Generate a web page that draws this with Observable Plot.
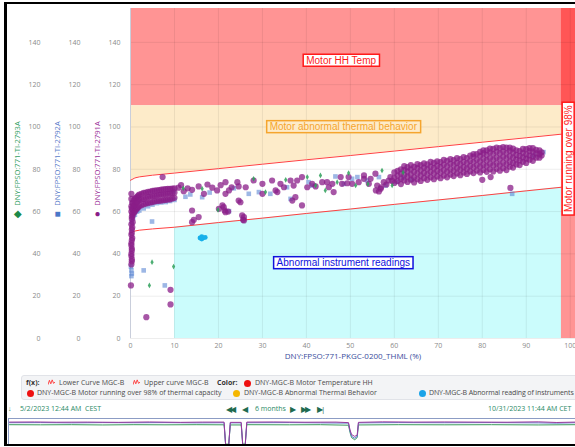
<!DOCTYPE html>
<html>
<head>
<meta charset="utf-8">
<script src="https://cdn.jsdelivr.net/npm/d3@7"></script>
<script src="https://cdn.jsdelivr.net/npm/@observablehq/plot@0.6"></script>
<style>
  body { margin: 0; width: 575px; height: 447px; overflow: hidden; background: #fff; position: relative; font-family: "Open Sans", sans-serif; }
  #frame { position: absolute; left: 4px; top: 2px; width: 700px; height: 440px; border-left: 3px solid #000; border-top: 2px solid #000; border-bottom: 2px solid #000; pointer-events: none; z-index: 5; }
  #chart { position: absolute; left: 0; top: 0; }
  #legend { position: absolute; left: 21px; top: 375px; width: 600px; height: 23px; background: #f3f4f6; border: 1px solid #e1e3e8; border-radius: 3px; font-size: 7px; color: #4a4a4a; }
  #legend span, #legend i, #legend svg { position: absolute; white-space: nowrap; line-height: 10px; }
  #legend b { font-weight: 700; color: #333; }
  #legend .dot { width: 7px; height: 7px; border-radius: 50%; }
  #legend svg { width: 7px; height: 7px; }
  #timeline { position: absolute; top: 403px; left: 0; width: 575px; height: 12px; font-size: 7px; color: #2a8a66; white-space: nowrap; }
  #timeline span { position: absolute; top: 0; line-height: 12px; }
  #timeline .ic { color: #1f6b50; font-size: 8px; letter-spacing: -2px; }
  #mini { position: absolute; left: 8px; top: 418px; border-top: 1px solid #8c9cc4; border-left: 1px solid #8c9cc4; }
</style>
</head>
<body>
<div id="chart"></div>
<div id="legend">
  <span style="left:4px;top:2px"><b>f(x):</b></span>
  <svg style="left:26px;top:3px" viewBox="0 0 8 7"><polyline points="0,6 1.6,1 3.2,5 4.8,0.5 6.4,4.5 8,3" fill="none" stroke="#ff3030" stroke-width="1"/></svg>
  <span style="left:37px;top:2px">Lower Curve MGC-B</span>
  <svg style="left:111px;top:3px" viewBox="0 0 8 7"><polyline points="0,6 1.6,1 3.2,5 4.8,0.5 6.4,4.5 8,3" fill="none" stroke="#ff3030" stroke-width="1"/></svg>
  <span style="left:122px;top:2px">Upper curve MGC-B</span>
  <span style="left:195px;top:2px"><b>Color:</b></span>
  <i class="dot" style="left:222px;top:3.5px;background:#ee1111"></i>
  <span style="left:233px;top:2px">DNY-MGC-B Motor Temperature HH</span>
  <i class="dot" style="left:5px;top:13.5px;background:#ee1111"></i>
  <span style="left:15px;top:12px">DNY-MGC-B Motor running over 98% of thermal capacity</span>
  <i class="dot" style="left:211px;top:13.5px;background:#f5b700"></i>
  <span style="left:222px;top:12px">DNY-MGC-B Abnormal Thermal Behavior</span>
  <i class="dot" style="left:397px;top:13.5px;background:#1aa3e8"></i>
  <span style="left:407px;top:12px;letter-spacing:-0.12px">DNY-MGC-B Abnormal reading of instruments</span>
</div>
<div id="timeline">
  <span style="left:8px">&#8595;</span>
  <span style="left:20px">5/2/2023 12:44 AM&nbsp; CEST</span>
  <span class="ic" style="left:226px">&#9664;&#9664;</span>
  <span class="ic" style="left:242px">&#9664;</span>
  <span style="left:255px">6 months</span>
  <span class="ic" style="left:290px">&#9654;</span>
  <span class="ic" style="left:301px">&#9654;&#9654;</span>
  <span class="ic" style="left:317px">&#9654;|</span>
  <span style="left:488px">10/31/2023 11:44 AM CET</span>
</div>
<div id="mini"></div>
<div id="frame"></div>
<script>
// Axis ticks
const xTicks = [0, 10, 20, 30, 40, 50, 60, 70, 80, 90, 100];
const yTicks = [0, 20, 40, 60, 80, 100, 120, 140];
const xMax = 101.2;
const yMax = 156;

// Alarm limits
const hhTempLimit = 110;        // Motor HH temperature
const capacityLimit = 98;       // % of thermal capacity
const instrumentLimit = 10;     // below this load the instrument check is not applied

// Lower / upper envelope curves (x = % thermal capacity, y = temperature)
const lowerCurve = [[0, 50], [1, 50.8], [2, 51.2], [5, 51.8], [10, 52.6], [20, 54.8], [30, 56.9], [40, 59.1], [50, 61.2], [60, 63.4], [70, 65.5], [80, 67.6], [90, 69.8], [98, 71.5]];
const upperCurve = [[0, 74.8], [1, 75.9], [2, 76.4], [5, 77.2], [10, 78.2], [20, 80.3], [30, 82.4], [40, 84.5], [50, 86.5], [60, 88.6], [70, 90.7], [80, 92.8], [90, 94.9], [98, 96.6]];

// DNY:FPSO:771-TI-2791A readings
const ti2791A = [
  // start-up tail
  [0.1, 25.1], [0.2, 35], [0.3, 36.5], [0.3, 37.5], [0.2, 39], [0.2, 40], [0.3, 41.5], [0.3, 42.5], [0.2, 44], [0.2, 45], [0.3, 46.5], [0.4, 47.5], [0.2, 49],
  [0.3, 50], [0.3, 51.5], [0.4, 52.5], [0.2, 54], [0.5, 55], [0.3, 56.5], [0.3, 57.5], [0.4, 59], [0.2, 60], [0.3, 61.5], [0.2, 62.5], [0.4, 64], [0.2, 66], [0.2, 68.4],
  // low-load knee
  [0.5, 58], [0.5, 61], [0.5, 64], [0.75, 59.5], [0.75, 62.5], [0.75, 65.3], [1, 60], [1, 63], [1, 66], [1.25, 61], [1.25, 64], [1.25, 66.5],
  [1.5, 61.5], [1.5, 64.5], [1.5, 67], [1.75, 62], [1.75, 65], [1.75, 67.5], [2, 62.5], [2, 65.5], [2, 68], [2.5, 63], [2.5, 65.8], [2.5, 68.4],
  [3, 63.5], [3, 66], [3, 68.8], [3.5, 63.8], [3.5, 66.4], [3.5, 69], [4, 64], [4, 66.8], [4, 69.3], [4.5, 64.3], [4.5, 67], [4.5, 69.5],
  [5, 64.5], [5, 67.2], [5, 69.8], [5.5, 64.8], [5.5, 67.4], [5.5, 69.9], [6, 65], [6, 67.6], [6, 70], [6.5, 65.1], [6.5, 67.8], [6.5, 70.2],
  [7, 65.2], [7, 68], [7, 70.4], [7.5, 65.4], [7.5, 68.1], [7.5, 70.5], [8, 65.5], [8, 68.2], [8, 70.6], [8.5, 65.7], [8.5, 68.4], [8.5, 70.7],
  [9, 65.8], [9, 68.5], [9, 70.8], [9.5, 66.2], [9.5, 68.7], [9.5, 70.9], [10, 66.5], [10, 69], [10, 71],
  [9.1, 23], [9.1, 16.1], [3.6, 10.1], [7.3, 76.3],
  // scattered operation
  [10.9, 71.3], [12.1, 69.6], [14, 70.3], [15.5, 71.9], [16.7, 68.4], [18.6, 71.3], [19.7, 70], [11.5, 72.5], [13, 71], [17.5, 72.8],
  [20.5, 72.5], [23, 71.5], [22.4, 70], [21.6, 68.4], [21.6, 73.9], [24.3, 73.9], [24.6, 71.9],
  [15.5, 57.4], [14.4, 56.1], [14, 60.5], [14, 55], [20.1, 61.3], [21.2, 62.1], [21.6, 59.7], [20.9, 62.9], [21.4, 60.5], [22.2, 60],
  [24.6, 65.2], [25, 64.4], [25.4, 58.2], [25.8, 57.4], [25.6, 56.1], [25.8, 55.8],
  [26.2, 71.5], [28, 74.7], [30, 73.1], [30, 68.4], [32.2, 74.7], [33, 70], [33.4, 69.2], [34.1, 73.1], [34.9, 71.5], [36.4, 74.7],
  [37.1, 72.3], [36.8, 65.2], [37.5, 66.8], [39, 62.9], [37.9, 74.7], [39, 76.3], [40.2, 71.5], [41.3, 73.1], [42.1, 71.9], [43.6, 73.9],
  [44.7, 73.9], [45.1, 71.5], [46.2, 69.2], [45.9, 73.1], [47.8, 76.3], [48.1, 73.1], [49.3, 73.4], [49.6, 76.3], [50.4, 73.1], [51.9, 73.9],
  [53.1, 75.5], [54.2, 73.1], [53.1, 77.1], [54.6, 75.5], [55.7, 77.9], [56.1, 72.3], [56.9, 70.8], [57.6, 73.9], [58.7, 74.7], [59.1, 76.3],
  [55.8, 70], [56.5, 69.5], [57, 71.5], [58.2, 72.8], [59.5, 74.5],
  // high-load cluster
  [60, 73.5], [60, 76], [60, 78.5], [60.75, 74.5], [60.75, 77], [60.75, 79.3],
  [61.5, 73], [61.5, 75.5], [61.5, 78], [61.5, 80], [62.25, 74.7], [62.25, 77.2], [62.25, 79.7], [62.25, 81.5],
  [63, 74], [63, 76.5], [63, 79], [63, 81], [63.75, 75.1], [63.75, 77.5], [63.75, 80], [63.75, 82],
  [64.5, 73.8], [64.5, 76.2], [64.5, 78.8], [64.5, 81.2], [65.25, 75.3], [65.25, 78], [65.25, 80.5], [65.25, 82.4],
  [66, 74.5], [66, 77], [66, 79.5], [66, 82], [66.75, 75.8], [66.75, 78.3], [66.75, 80.8], [66.75, 82.8],
  [67.5, 75], [67.5, 77.5], [67.5, 80], [67.5, 82.3], [68.25, 76.2], [68.25, 78.8], [68.25, 81.3], [68.25, 83.5],
  [69, 75.3], [69, 78], [69, 80.5], [69, 83], [69.75, 76.6], [69.75, 79.2], [69.75, 81.7], [69.75, 83.8],
  [70.5, 75.8], [70.5, 78.4], [70.5, 81], [70.5, 83.4], [71.25, 77], [71.25, 79.6], [71.25, 82.2], [71.25, 84.5],
  [72, 76.2], [72, 78.8], [72, 81.4], [72, 84], [72.75, 77.5], [72.75, 80], [72.75, 82.6], [72.75, 84.8],
  [73.5, 76.8], [73.5, 79.3], [73.5, 81.9], [73.5, 84.3], [74.25, 78], [74.25, 80.5], [74.25, 83], [74.25, 85.3],
  [75, 77.2], [75, 79.8], [75, 82.3], [75, 84.8], [75.75, 78.5], [75.75, 81], [75.75, 83.5], [75.75, 85.8],
  [76.5, 77.8], [76.5, 80.3], [76.5, 82.8], [76.5, 85.3], [77.25, 79], [77.25, 81.5], [77.25, 84], [77.25, 86.5],
  [78, 78.2], [78, 80.8], [78, 83.4], [78, 86], [78, 87.2], [78.75, 79.4], [78.75, 82], [78.75, 84.6], [78.75, 87.2],
  [79.5, 78.5], [79.5, 81.2], [79.5, 83.8], [79.5, 86.4], [79.5, 88.2], [80.25, 79.7], [80.25, 82.3], [80.25, 85], [80.25, 87.6], [80.25, 89],
  [81, 78.8], [81, 81.5], [81, 84.2], [81, 86.8], [81, 89], [81.75, 80], [81.75, 82.6], [81.75, 85.3], [81.75, 88], [81.75, 89.8],
  [82.5, 79], [82.5, 81.8], [82.5, 84.5], [82.5, 87.2], [82.5, 89.6], [83.25, 80.2], [83.25, 82.9], [83.25, 85.6], [83.25, 88.3], [83.25, 90.3],
  [84, 79.3], [84, 82], [84, 84.8], [84, 87.5], [84, 90], [84.75, 80.5], [84.75, 83.2], [84.75, 85.9], [84.75, 88.5], [84.75, 90.5],
  [85.5, 79.6], [85.5, 82.3], [85.5, 85], [85.5, 87.6], [85.5, 90.2], [86.25, 81.2], [86.25, 83.6], [86.25, 86.2], [86.25, 88.8], [86.25, 90.2],
  [87, 80.8], [87, 83], [87, 85.5], [87, 87.9], [87, 89.8], [87.75, 82.3], [87.75, 84.6], [87.75, 86.8], [87.75, 89],
  [88.5, 82], [88.5, 84.2], [88.5, 86.4], [88.5, 88.6], [89.25, 83.5], [89.25, 85.6], [89.25, 87.8], [89.25, 89.6],
  [90, 83], [90, 85], [90, 87], [90, 89.5], [90.75, 84.5], [90.75, 86.5], [90.75, 88.6], [90.75, 90],
  [91.5, 84], [91.5, 86], [91.5, 88.3], [91.5, 90], [92.25, 85.5], [92.25, 87.5], [92.25, 89.2],
  [93, 85.5], [93, 87.2], [93, 89], [93.5, 86.5], [93.5, 88],
  [80, 75], [81.9, 76.3], [86.4, 71.2]
];

// DNY:FPSO:771-TI-2792A readings
const ti2792A = [
  [0.2, 32.2], [0.3, 30.7], [0.1, 34], [0.2, 29.5],
  [0.3, 55], [0.6, 57], [1, 58.5], [1.5, 60], [2, 60.5], [3, 61.5], [4, 62.5], [5, 63.3], [6, 64], [7, 64.3], [8, 64.5], [9, 65], [10, 65.5], [4.9, 55.3],
  [3, 32.2], [7.8, 25.1],
  [9.8, 69.6], [13.6, 68.1], [16.3, 66.8], [12.5, 67], [18, 69], [22.4, 60.2], [23.5, 71], [26.9, 68.4], [29.2, 69.2], [31.8, 68.4],
  [35.6, 71.5], [36.4, 66], [40.5, 73.9], [41.3, 72.3], [46.6, 76.6], [48.5, 73.1], [50.4, 75.5], [51.6, 76.3], [53.8, 74.7], [56.5, 76.3],
  [58, 72.3], [60.5, 74], [62, 76], [64, 75], [86.8, 68.4], [91.7, 86.5], [93.9, 88.1]
];

// DNY:FPSO:771-TI-2793A readings
const ti2793A = [
  [4.9, 36.1], [9.8, 34], [4.3, 25.1], [12, 71], [16.3, 70.8], [19.9, 60.8], [28, 75.5], [30.7, 69.2], [35.3, 75], [40.2, 76.3],
  [42.1, 72.3], [43.2, 77.1], [44.3, 70], [47, 73.9], [49.6, 78.2], [51.2, 72.3], [54, 73], [57.2, 79.4], [59.5, 72.3], [62, 78.5]
];

// Readings flagged as abnormal instrument readings
const abnormalReadings = [[15.8, 47.5], [16.2, 48.2], [16.6, 47.6], [16.2, 47], [17, 47.8]];

// Zone annotations
const zoneLabels = [
  {text: "Motor HH Temp", x: 47.9, y: 131.4, color: "#ff1a1a", box: "#ffffff"},
  {text: "Motor abnormal thermal behavior", x: 48.4, y: 100, color: "#f5a52e", box: "#fdebc9"},
  {text: "Abnormal instrument readings", x: 48.4, y: 35.7, color: "#1010dd", box: "#ffffff"}
];
const capacityLabel = [{text: "Motor running over 98%", x: 99.6, y: 85, color: "#ff1a1a", box: "#ffffff"}];

const seriesAxes = [
  {name: "DNY:FPSO:771-TI-2793A", color: "#33a064", symbol: "\u25C6", symbolColor: "#1d8a49"},
  {name: "DNY:FPSO:771-TI-2792A", color: "#5a7cc9", symbol: "\u25A0", symbolColor: "#4a78c8"},
  {name: "DNY:FPSO:771-TI-2791A", color: "#9b3199", symbol: "\u25CF", symbolColor: "#8a1d88"}
];
const xLabel = "DNY:FPSO:771-PKGC-0200_THML (%)";

const pts = a => a.map(([x, y]) => ({x, y}));
const lower = pts(lowerCurve);
const upper = pts(upperCurve);

const axisOffsets = [-80, -40, 0];
const labelOffsets = [-112.5, -73, -33];
const labelFont = "Liberation Sans, Arial, sans-serif";

const main = Plot.plot({
  width: 575,
  height: 368,
  marginLeft: 130,
  marginRight: 0,
  marginTop: 8,
  marginBottom: 30,
  x: {domain: [0, xMax]},
  y: {domain: [0, yMax]},
  style: {fontFamily: "Open Sans, sans-serif", background: "transparent", overflow: "visible"},
  marks: [
    // zones
    Plot.rect([{x1: 0, x2: xMax, y1: hhTempLimit, y2: yMax}], {x1: "x1", x2: "x2", y1: "y1", y2: "y2", fill: "#ff0000", fillOpacity: 0.42}),
    Plot.areaY(upper, {x: "x", y1: "y", y2: hhTempLimit, fill: "#fdebc9"}),
    Plot.areaY(lower.filter(d => d.x >= instrumentLimit), {x: "x", y1: 0, y2: "y", fill: "#cbfcfc"}),
    Plot.rect([{x1: capacityLimit, x2: xMax, y1: 0, y2: yMax}], {x1: "x1", x2: "x2", y1: "y1", y2: "y2", fill: "#ff0000", fillOpacity: 0.42}),
    // grid
    Plot.gridX(xTicks, {stroke: "#000", strokeOpacity: 0.07}),
    Plot.gridY(yTicks, {stroke: "#000", strokeOpacity: 0.07}),
    Plot.ruleX([0], {stroke: "#c9cedb"}),
    // envelope curves
    Plot.line(lower, {x: "x", y: "y", stroke: "#ff4040", strokeWidth: 1}),
    Plot.line(upper, {x: "x", y: "y", stroke: "#ff4040", strokeWidth: 1}),
    // readings
    Plot.dot(pts(ti2792A), {x: "x", y: "y", symbol: "square", r: 2.6, fill: "#5b87d4", fillOpacity: 0.6, stroke: null}),
    Plot.dot(pts(ti2791A), {x: "x", y: "y", r: 3.1, fill: "#8a1d88", fillOpacity: 0.75, stroke: null}),
    Plot.dot(pts(ti2793A), {x: "x", y: "y", symbol: "diamond", r: 1.7, fill: "#2ea05a", fillOpacity: 0.85, stroke: null}),
    Plot.dot(pts(abnormalReadings), {x: "x", y: "y", r: 2.4, fill: "#17b0ea", stroke: null}),
    // zone annotations
    Plot.text(zoneLabels, {x: "x", y: "y", text: "text", fill: "color", fontSize: 10, fontFamily: labelFont, ariaDescription: "zone label"}),
    Plot.text(capacityLabel, {x: "x", y: "y", text: "text", fill: "color", rotate: -90, fontSize: 10, fontFamily: labelFont, ariaDescription: "zone label"}),
    // axes
    Plot.axisX(xTicks, {tickSize: 0, tickPadding: 5, fontSize: 7, color: "#8b8b8b", label: null}),
    ...axisOffsets.map(dx => Plot.axisY(yTicks, {tickSize: 0, tickPadding: 10, dx, fontSize: 7, color: "#8b8b8b", label: null})),
    Plot.text([xLabel], {frameAnchor: "bottom", dy: 20, fontSize: 8, fill: "#3a4d9c"}),
    ...seriesAxes.map((s, i) => Plot.text([s.name], {frameAnchor: "left", textAnchor: "middle", dx: labelOffsets[i], dy: -10, rotate: -90, fontSize: 7.6, fill: s.color})),
    ...seriesAxes.map((s, i) => Plot.text([s.symbol], {frameAnchor: "left", textAnchor: "middle", dx: labelOffsets[i], dy: 40, fontSize: 10, fill: s.symbolColor}))
  ]
});
document.getElementById("chart").appendChild(main);

// Boxes behind zone annotations
const boxed = [...zoneLabels, ...capacityLabel];
main.querySelectorAll('g[aria-description="zone label"] text').forEach((t, i) => {
  const b = t.getBBox();
  const d = boxed[i];
  const r = document.createElementNS("http://www.w3.org/2000/svg", "rect");
  r.setAttribute("x", b.x - 3);
  r.setAttribute("y", b.y - 0.5);
  r.setAttribute("width", b.width + 6);
  r.setAttribute("height", b.height + 1);
  r.setAttribute("fill", d.box);
  r.setAttribute("stroke", d.color);
  r.setAttribute("stroke-width", 1.5);
  if (t.getAttribute("transform")) r.setAttribute("transform", t.getAttribute("transform"));
  t.parentNode.insertBefore(r, t);
});

// Six-month overview (day index from 5/2/2023)
const overviewTI2791A = [[0, 90], [8, 90.5], [15, 89.5], [25, 90], [35, 89], [45, 90.5], [55, 89], [62, 90], [69, 90], [69.5, 2], [70.5, 2], [71, 89], [74.5, 89], [75, 2], [75.8, 2], [76.3, 90], [85, 90.5], [95, 89.5], [105, 90], [109, 88], [109.5, 60], [110, 42], [111, 35], [111.8, 40], [112.2, 89], [120, 91], [130, 90], [140, 90.5], [150, 90], [160, 89.5], [170, 91], [176, 88.5], [182, 90]];
const overviewTI2792A = [[0, 87.5], [10, 88], [20, 87], [30, 88], [40, 87.5], [50, 88], [60, 87], [69, 87.5], [69.5, 0], [70.5, 0], [71, 87], [74.5, 87], [75, 0], [75.8, 0], [76.3, 87.5], [90, 88], [100, 87], [109, 86], [109.5, 55], [110, 35], [111, 28], [111.8, 34], [112.2, 87], [125, 88], [140, 87.5], [155, 88], [170, 87], [176, 86], [182, 87.5]];
const overviewTI2793A = [[0, 80], [10, 79.5], [20, 80], [30, 79], [40, 80], [50, 79.5], [60, 80], [69, 79.5], [69.5, 5], [70.5, 5], [71, 79], [74.5, 79], [75, 5], [75.8, 5], [76.3, 80], [90, 79.5], [100, 80], [109, 78], [109.5, 50], [110, 30], [111, 22], [111.8, 30], [112.2, 79], [125, 80], [140, 79.5], [155, 80], [170, 79], [182, 80]];

const mini = Plot.plot({
  width: 567,
  height: 26,
  margin: 0,
  x: {domain: [0, 182], axis: null},
  y: {domain: [0, 100], axis: null},
  style: {background: "transparent"},
  marks: [
    Plot.line(pts(overviewTI2793A), {x: "x", y: "y", stroke: "#3a9a5a", strokeWidth: 1}),
    Plot.line(pts(overviewTI2792A), {x: "x", y: "y", stroke: "#5d7fd0", strokeWidth: 1}),
    Plot.line(pts(overviewTI2791A), {x: "x", y: "y", stroke: "#9b3a9b", strokeWidth: 1})
  ]
});
document.getElementById("mini").appendChild(mini);
</script>
</body>
</html>
